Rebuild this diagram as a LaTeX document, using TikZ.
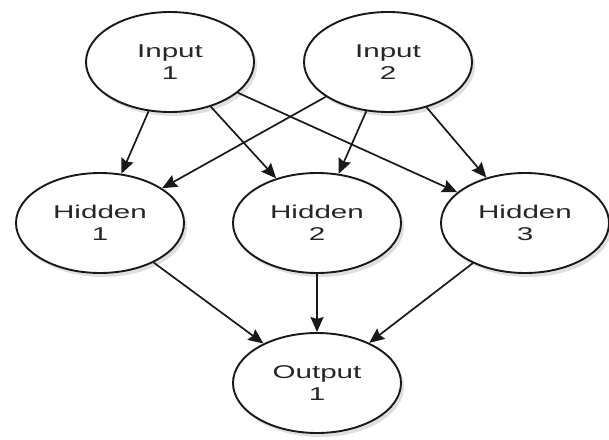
\documentclass[tikz,border=0pt]{standalone}
\usepackage{fontspec}
\usepackage{graphicx}
\setmainfont{Liberation Sans}
\usetikzlibrary{shapes.geometric,arrows.meta,shadows}
\newcommand{\stxt}[1]{\scalebox{1.6}[1]{#1}}
\begin{document}
\begin{tikzpicture}[x=1pt,y=1pt,
  neuron/.style={ellipse, draw=black!90, line width=1.9pt, fill=white,
    minimum width=168pt, minimum height=100pt, inner sep=0pt,
    align=center, text=black!85,
    font=\fontsize{18.5}{21.5}\selectfont,
    drop shadow={opacity=0.25, shadow xshift=3pt, shadow yshift=-4pt}},
  conn/.style={draw=black!90, line width=1.7pt, -{Stealth[length=15pt,width=13pt,inset=2pt]}}]
\useasboundingbox (0,0) rectangle (609,439);
\node[neuron] (i1) at (170,377) {\stxt{Input}\\\stxt{1}};
\node[neuron] (i2) at (388,377) {\stxt{Input}\\\stxt{2}};
\node[neuron] (h1) at (100,216) {\stxt{Hidden}\\\stxt{1}};
\node[neuron] (h2) at (317,216) {\stxt{Hidden}\\\stxt{2}};
\node[neuron] (h3) at (525,216) {\stxt{Hidden}\\\stxt{3}};
\node[neuron] (o1) at (317,56) {\stxt{Output}\\\stxt{1}};
\draw[conn] (i1) -- (h1);
\draw[conn] (i1) -- (h2);
\draw[conn] (i1) -- (h3);
\draw[conn] (i2) -- (h1);
\draw[conn] (i2) -- (h2);
\draw[conn] (i2) -- (h3);
\draw[conn] (h1) -- (o1);
\draw[conn] (h2) -- (o1);
\draw[conn] (h3) -- (o1);
\end{tikzpicture}
\end{document}
